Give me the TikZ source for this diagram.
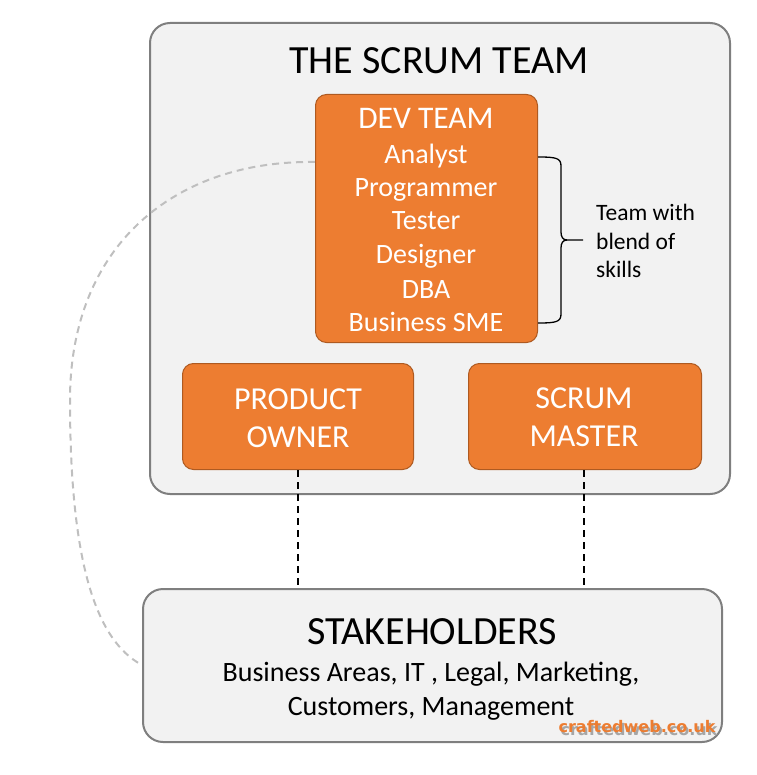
\documentclass[tikz,border=0pt]{standalone}
\usepackage{fontspec}
\setmainfont{Carlito}
\newfontfamily\wmfont{DejaVu Sans}
\definecolor{panel}{HTML}{F2F2F2}
\definecolor{panelline}{HTML}{7F7F7F}
\definecolor{orangefill}{HTML}{ED7D31}
\definecolor{orangeline}{HTML}{AE5A21}
\definecolor{curvegray}{HTML}{BFBFBF}
\definecolor{wmshadow}{HTML}{A6A6A6}
\tikzset{
  panelbox/.style={draw=panelline, fill=panel, line width=2pt, rounded corners=20pt, inner sep=0pt, anchor=north west},
  orangebox/.style={draw=orangeline, fill=orangefill, line width=1pt, rounded corners=11pt, inner sep=0pt, anchor=north west},
  devline/.style={text=white, font=\fontsize{28}{28}\selectfont, inner sep=0pt, text height=20pt, text depth=6pt},
  whitetxt/.style={text=white, font=\fontsize{32}{38}\selectfont, align=center, inner sep=0pt},
  blacktxt/.style={text=black, align=center, inner sep=0pt},
  linkline/.style={draw=black, line width=2pt, dash pattern=on 7pt off 5pt},
}
\begin{document}
\begin{tikzpicture}[x=1pt,y=-1pt]
\useasboundingbox (0,0) rectangle (756,775);
% scrum team panel
\node[panelbox, minimum width=580pt, minimum height=471pt] (team) at (149,22) {};
% dashed gray curve
\coordinate (cstart) at (315,162);
\coordinate (cend) at (142,665);
\draw[curvegray, line width=2pt, dash pattern=on 7pt off 5pt]
  (cstart) .. controls (175,160) and (70,245) .. (70,400)
  .. controls (70,560) and (95,640) .. (cend);
\node[blacktxt, font=\fontsize{40}{44}\selectfont] (title) at (439,61) {THE SCRUM TEAM};
% dev team
\node[orangebox, minimum width=222pt, minimum height=248pt] (dev) at (315,94) {};
\node[devline, font=\fontsize{31.5}{32}\selectfont, text height=23pt, text depth=7pt] (l1) at (426,121) {DEV TEAM};
\node[devline] (l2) at (426,157) {Analyst};
\node[devline] (l3) at (426,190) {Programmer};
\node[devline] (l4) at (426,223) {Tester};
\node[devline] (l5) at (426,257) {Designer};
\node[devline] (l6) at (426,291) {DBA};
\node[devline] (l7) at (426,324) {Business SME};
% product owner, scrum master
\node[orangebox, minimum width=231pt, minimum height=106pt] (po) at (182,363) {};
\node[whitetxt] (potxt) at (298,418) {PRODUCT\\OWNER};
\node[orangebox, minimum width=233pt, minimum height=106pt] (sm) at (468,363) {};
\node[whitetxt] (smtxt) at (584,417) {SCRUM\\MASTER};
% brace
\coordinate (bt) at (538,157);
\coordinate (bb) at (538,323);
\coordinate (btip) at (583,240);
\draw[black, line width=1.3pt]
  (bt) .. controls (556,157) and (561,158) .. (561,166) -- (561,232)
  .. controls (561,237) and (563,240) .. (567,240) -- (btip);
\draw[black, line width=1.3pt]
  (bb) .. controls (556,323) and (561,322) .. (561,314) -- (561,248)
  .. controls (561,243) and (563,240) .. (567,240);
\node[blacktxt, align=left, anchor=west, font=\fontsize{23.5}{28.5}\selectfont] (skills) at (596,241) {Team with\\blend of\\skills};
% stakeholders
\node[panelbox, minimum width=579pt, minimum height=153pt] (stake) at (142,588) {};
\node[blacktxt, font=\fontsize{40}{44}\selectfont] (staketitle) at (432,632) {STAKEHOLDERS};
\node[blacktxt, font=\fontsize{28}{34}\selectfont] (staketxt) at (431,691) {Business Areas, IT , Legal, Marketing,\\Customers, Management};
% links
\coordinate (pobot) at (298,469);
\coordinate (smbot) at (584,469);
\draw[linkline] (po.south -| pobot) -- (pobot |- stake.north);
\draw[linkline] (sm.south -| smbot) -- (smbot |- stake.north);
% watermark
\node[font=\wmfont\bfseries\fontsize{16}{16}\selectfont, inner sep=0pt] (wm) at (637,728) {\makebox[0pt][l]{\hspace{2pt}\raisebox{-2.5pt}{\textcolor{wmshadow}{craftedweb.co.uk}}}\textcolor{orangefill}{craftedweb.co.uk}};
\end{tikzpicture}
\end{document}
